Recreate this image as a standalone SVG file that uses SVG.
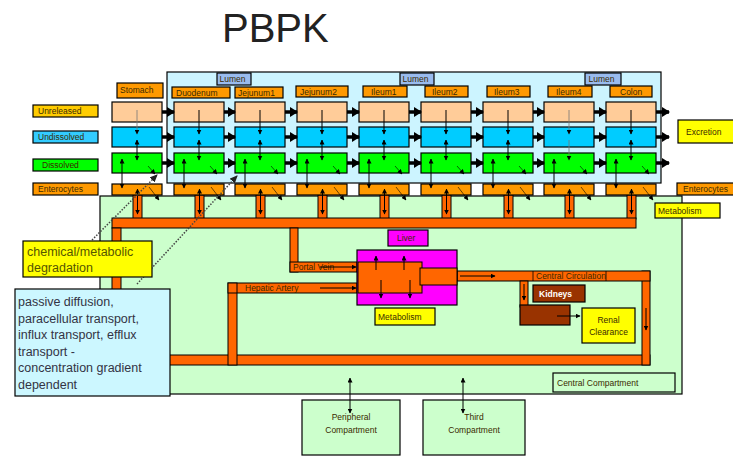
<svg xmlns="http://www.w3.org/2000/svg" width="733" height="457" viewBox="0 0 733 457">
<defs>
<style>
text{font-family:"Liberation Sans",Arial,sans-serif;}
.t{font-size:8.5px;fill:#3a2a00;}
.b{stroke:#000;stroke-width:1.2;}
.peach{fill:#ffcc99;}
.blue{fill:#00ccff;}
.green{fill:#00ff00;}
.ent{fill:#ff9900;}
.hdr{fill:#ff9900;}
.pipe{fill:#ff6600;stroke:#000;stroke-width:1;}
.yel{fill:#ffff00;}
.thick{stroke:#000;stroke-width:3.5;fill:none;marker-end:url(#big);}
.thin{stroke:#000;stroke-width:1;fill:none;marker-end:url(#sm);}
.dbl{stroke:#000;stroke-width:1;fill:none;marker-end:url(#sm);marker-start:url(#sm);}
.gthin{stroke:#777;stroke-width:0.8;fill:none;marker-end:url(#sm);}
.dia{stroke:#000;stroke-width:0.6;fill:none;marker-end:url(#sm);}
.dot{stroke:#444;stroke-width:1.5;stroke-dasharray:1.5 1.5;fill:none;marker-end:url(#sm2);}
</style>
<marker id="big" markerWidth="8" markerHeight="10" refX="7" refY="5" orient="auto" markerUnits="userSpaceOnUse"><path d="M0,0L8,5L0,10z" fill="#000"/></marker>
<marker id="sm" markerWidth="5" markerHeight="5" refX="4.5" refY="2.5" orient="auto-start-reverse" markerUnits="userSpaceOnUse"><path d="M0,0L5,2.5L0,5z" fill="#000"/></marker>
<marker id="sm2" markerWidth="8" markerHeight="7" refX="7" refY="3.5" orient="auto" markerUnits="userSpaceOnUse"><path d="M0,0L8,3.5L0,7z" fill="#222"/></marker>
</defs>
<rect width="733" height="457" fill="#fff"/>
<text x="222" y="42" font-size="40" fill="#222">PBPK</text>

<g id="central-area"><rect x="100" y="196" width="582" height="198" fill="#ccffcc" stroke="#000" stroke-width="1.2"/></g>
<g id="lumen"><rect x="167" y="72" width="494" height="111" fill="#ccf4ff" stroke="#000" stroke-width="1.2"/>
<rect x="217" y="73" width="34" height="12" fill="#99bbee" class="b"/><text class="t" x="219.5" y="82">Lumen</text>
<rect x="400" y="73" width="34" height="12" fill="#99bbee" class="b"/><text class="t" x="402.5" y="82">Lumen</text>
<rect x="585" y="73" width="36" height="12" fill="#99bbee" class="b"/><text class="t" x="588.5" y="82">Lumen</text></g>

<g id="row-labels">
<g id="lbl-unreleased"><rect x="33" y="105" width="65" height="12" fill="#ffcc00" class="b"/><text class="t" x="38" y="114">Unreleased</text></g>
<g id="lbl-undissolved"><rect x="33" y="131" width="65" height="12" fill="#33ccff" class="b"/><text class="t" x="38" y="140">Undissolved</text></g>
<g id="lbl-dissolved"><rect x="33" y="159" width="65" height="12" class="b green"/><text class="t" x="42" y="168">Dissolved</text></g>
<g id="lbl-enterocytes"><rect x="33" y="183" width="65" height="12" class="b ent"/><text class="t" x="38" y="192">Enterocytes</text></g>
</g>

<g id="vessels">
<rect class="pipe" x="133" y="195" width="9" height="24"/>
<rect class="pipe" x="195" y="195" width="9" height="24"/>
<rect class="pipe" x="256" y="195" width="9" height="24"/>
<rect class="pipe" x="318" y="195" width="9" height="24"/>
<rect class="pipe" x="380" y="195" width="9" height="24"/>
<rect class="pipe" x="442" y="195" width="9" height="24"/>
<rect class="pipe" x="504" y="195" width="9" height="24"/>
<rect class="pipe" x="565" y="195" width="9" height="24"/>
<rect class="pipe" x="627" y="195" width="9" height="24"/>
<rect class="pipe" x="112" y="218" width="524" height="10"/>
<rect class="pipe" x="112" y="228" width="9" height="137"/>
<rect class="pipe" x="112" y="355" width="538" height="10"/>
<rect class="pipe" x="642" y="271" width="8" height="94"/>
<rect class="pipe" x="457" y="271" width="193" height="10"/>
<rect class="pipe" x="290" y="228" width="8" height="44"/>
<rect class="pipe" x="290" y="262" width="67" height="10"/>
<rect class="pipe" x="228" y="283" width="9" height="82"/>
<rect class="pipe" x="228" y="283" width="129" height="10"/>
<rect class="pipe" x="520" y="281" width="8" height="26"/>
<line x1="237" y1="283" x2="237" y2="293" stroke="#000"/>
<line x1="533" y1="271" x2="533" y2="281" stroke="#000" stroke-width="0.8"/>
<line x1="606" y1="271" x2="606" y2="281" stroke="#000" stroke-width="0.8"/>
<text class="t" x="293" y="270" font-size="7.5">Portal Vein</text>
<text class="t" x="245" y="291" font-size="7.5">Hepatic Artery</text>
<text class="t" x="536" y="279" font-size="7.5">Central Circulation</text>
</g>

<g id="stomach"><rect class="b hdr" x="117" y="83" width="46" height="15"/><text class="t" x="120" y="93">Stomach</text>
<rect class="b peach" x="112" y="102" width="50" height="20"/><rect class="b blue" x="112" y="127" width="50" height="20"/><rect class="b green" x="112" y="153" width="50" height="20"/><rect class="b ent" x="112" y="184" width="50" height="11"/></g>
<g id="duodenum"><rect class="b hdr" x="172" y="87" width="58" height="11"/><text class="t" x="176" y="95.5">Duodenum</text>
<rect class="b peach" x="174" y="102" width="50" height="20"/><rect class="b blue" x="174" y="127" width="50" height="20"/><rect class="b green" x="174" y="153" width="50" height="20"/><rect class="b ent" x="174" y="184" width="50" height="11"/></g>
<g id="jejunum1"><rect class="b hdr" x="235" y="87" width="48" height="11"/><text class="t" x="238" y="95.5">Jejunum1</text>
<rect class="b peach" x="235" y="102" width="50" height="20"/><rect class="b blue" x="235" y="127" width="50" height="20"/><rect class="b green" x="235" y="153" width="50" height="20"/><rect class="b ent" x="235" y="184" width="50" height="11"/></g>
<g id="jejunum2"><rect class="b hdr" x="296" y="86" width="52" height="11"/><text class="t" x="300" y="94.5">Jejunum2</text>
<rect class="b peach" x="297" y="102" width="50" height="20"/><rect class="b blue" x="297" y="127" width="50" height="20"/><rect class="b green" x="297" y="153" width="50" height="20"/><rect class="b ent" x="297" y="184" width="50" height="11"/></g>
<g id="ileum1"><rect class="b hdr" x="363" y="86" width="44" height="11"/><text class="t" x="371" y="94.5">Ileum1</text>
<rect class="b peach" x="359" y="102" width="50" height="20"/><rect class="b blue" x="359" y="127" width="50" height="20"/><rect class="b green" x="359" y="153" width="50" height="20"/><rect class="b ent" x="359" y="184" width="50" height="11"/></g>
<g id="ileum2"><rect class="b hdr" x="425" y="86" width="43" height="11"/><text class="t" x="432" y="94.5">Ileum2</text>
<rect class="b peach" x="421" y="102" width="50" height="20"/><rect class="b blue" x="421" y="127" width="50" height="20"/><rect class="b green" x="421" y="153" width="50" height="20"/><rect class="b ent" x="421" y="184" width="50" height="11"/></g>
<g id="ileum3"><rect class="b hdr" x="487" y="86" width="43" height="11"/><text class="t" x="494" y="94.5">Ileum3</text>
<rect class="b peach" x="483" y="102" width="50" height="20"/><rect class="b blue" x="483" y="127" width="50" height="20"/><rect class="b green" x="483" y="153" width="50" height="20"/><rect class="b ent" x="483" y="184" width="50" height="11"/></g>
<g id="ileum4"><rect class="b hdr" x="548" y="86" width="44" height="11"/><text class="t" x="556" y="94.5">Ileum4</text>
<rect class="b peach" x="544" y="102" width="50" height="20"/><rect class="b blue" x="544" y="127" width="50" height="20"/><rect class="b green" x="544" y="153" width="50" height="20"/><rect class="b ent" x="544" y="184" width="50" height="11"/></g>
<g id="colon"><rect class="b hdr" x="610" y="86" width="42" height="11"/><text class="t" x="620" y="94.5">Colon</text>
<rect class="b peach" x="606" y="102" width="50" height="20"/><rect class="b blue" x="606" y="127" width="50" height="20"/><rect class="b green" x="606" y="153" width="50" height="20"/><rect class="b ent" x="606" y="184" width="50" height="11"/></g>

<g id="excretion"><rect class="b yel" x="678" y="120" width="60" height="23"/><text class="t" x="686" y="134.5" font-size="9">Excretion</text></g>
<g id="enterocytes-right"><rect class="b ent" x="677" y="183" width="60" height="12"/><text class="t" x="683" y="192">Enterocytes</text></g>
<g id="metabolism-gut"><rect class="b yel" x="655" y="203" width="65" height="15"/><text class="t" x="658" y="213.5">Metabolism</text></g>

<g id="liver"><rect x="357" y="250" width="100" height="55" fill="#ff00ff" class="b"/>
<rect x="358" y="262" width="64" height="31" class="pipe"/><rect x="420" y="268" width="37" height="17" class="pipe"/></g>
<g id="liver-label"><rect x="388" y="230" width="40" height="16" fill="#ff00ff" class="b"/><text class="t" x="397" y="241" fill="#551155">Liver</text></g>
<g id="metabolism-liver"><rect class="b yel" x="375" y="308" width="60" height="17"/><text class="t" x="378" y="319.5">Metabolism</text></g>
<g id="kidneys"><rect x="520" y="305" width="50" height="20" fill="#993300" class="b"/></g>
<g id="kidneys-label"><rect x="533" y="285" width="52" height="17" fill="#993300" class="b"/><text x="539" y="296.5" font-size="8.5" font-weight="bold" fill="#fff">Kidneys</text></g>
<g id="renal-clearance"><rect class="b yel" x="582" y="308" width="53" height="35"/><text class="t" x="608.5" y="323" text-anchor="middle">Renal</text><text class="t" x="608.5" y="335" text-anchor="middle">Clearance</text></g>
<g id="central-compartment"><rect x="553" y="373" width="122" height="19" fill="#ccffcc" class="b"/><text class="t" x="557" y="385.5">Central Compartment</text></g>
<g id="peripheral"><rect x="302" y="400" width="98" height="55" fill="#ccffcc" class="b"/><text class="t" x="351" y="420" text-anchor="middle">Peripheral</text><text class="t" x="351" y="433" text-anchor="middle">Compartment</text></g>
<g id="third"><rect x="423" y="400" width="102" height="55" fill="#ccffcc" class="b"/><text class="t" x="474" y="420" text-anchor="middle">Third</text><text class="t" x="474" y="433" text-anchor="middle">Compartment</text></g>

<g id="connectors">
<g id="flow-unreleased">
<line class="thick" x1="162" y1="112" x2="174" y2="112"/><line class="thick" x1="224" y1="112" x2="235" y2="112"/><line class="thick" x1="285" y1="112" x2="297" y2="112"/><line class="thick" x1="347" y1="112" x2="359" y2="112"/><line class="thick" x1="409" y1="112" x2="421" y2="112"/><line class="thick" x1="471" y1="112" x2="483" y2="112"/><line class="thick" x1="533" y1="112" x2="544" y2="112"/><line class="thick" x1="594" y1="112" x2="606" y2="112"/><line class="thick" x1="656" y1="112" x2="669" y2="112"/>
</g>
<g id="flow-undissolved">
<line class="thick" x1="162" y1="137" x2="174" y2="137"/><line class="thick" x1="224" y1="137" x2="235" y2="137"/><line class="thick" x1="285" y1="137" x2="297" y2="137"/><line class="thick" x1="347" y1="137" x2="359" y2="137"/><line class="thick" x1="409" y1="137" x2="421" y2="137"/><line class="thick" x1="471" y1="137" x2="483" y2="137"/><line class="thick" x1="533" y1="137" x2="544" y2="137"/><line class="thick" x1="594" y1="137" x2="606" y2="137"/><line class="thick" x1="656" y1="137" x2="669" y2="137"/>
</g>
<g id="flow-dissolved">
<line class="thick" x1="162" y1="163" x2="174" y2="163"/><line class="thick" x1="224" y1="163" x2="235" y2="163"/><line class="thick" x1="285" y1="163" x2="297" y2="163"/><line class="thick" x1="347" y1="163" x2="359" y2="163"/><line class="thick" x1="409" y1="163" x2="421" y2="163"/><line class="thick" x1="471" y1="163" x2="483" y2="163"/><line class="thick" x1="533" y1="163" x2="544" y2="163"/><line class="thick" x1="594" y1="163" x2="606" y2="163"/><line class="thick" x1="656" y1="163" x2="669" y2="163"/>
</g>
<g id="release">
<line class="gthin" x1="137" y1="110" x2="137" y2="134"/><line class="thin" x1="199" y1="110" x2="199" y2="134"/><line class="thin" x1="260" y1="110" x2="260" y2="134"/><line class="thin" x1="322" y1="110" x2="322" y2="134"/><line class="thin" x1="384" y1="110" x2="384" y2="134"/><line class="thin" x1="446" y1="110" x2="446" y2="134"/><line class="thin" x1="508" y1="110" x2="508" y2="134"/><line class="gthin" x1="569" y1="110" x2="569" y2="134"/><line class="thin" x1="631" y1="110" x2="631" y2="134"/>
</g>
<g id="dissolution">
<line class="dbl" x1="137" y1="140" x2="137" y2="160"/><line class="dbl" x1="199" y1="140" x2="199" y2="160"/><line class="dbl" x1="260" y1="140" x2="260" y2="160"/><line class="dbl" x1="322" y1="140" x2="322" y2="160"/><line class="dbl" x1="384" y1="140" x2="384" y2="160"/><line class="dbl" x1="446" y1="140" x2="446" y2="160"/><line class="dbl" x1="508" y1="140" x2="508" y2="160"/><line class="gthin" x1="569" y1="140" x2="569" y2="160"/><line class="dbl" x1="631" y1="140" x2="631" y2="160"/>
</g>
<g id="absorption">
<line class="dbl" x1="122" y1="159" x2="122" y2="188"/><line class="dbl" x1="184" y1="159" x2="184" y2="188"/><line class="dbl" x1="245" y1="159" x2="245" y2="188"/><line class="dbl" x1="307" y1="159" x2="307" y2="188"/><line class="dbl" x1="369" y1="159" x2="369" y2="188"/><line class="dbl" x1="431" y1="159" x2="431" y2="188"/><line class="dbl" x1="493" y1="159" x2="493" y2="188"/><line class="dbl" x1="554" y1="159" x2="554" y2="188"/><line class="dbl" x1="616" y1="159" x2="616" y2="188"/>
</g>
<g id="degradation-marks">
<line class="dia" x1="148" y1="166" x2="155" y2="174"/><line class="dia" x1="210" y1="166" x2="217" y2="174"/><line class="dia" x1="271" y1="166" x2="278" y2="174"/><line class="dia" x1="333" y1="166" x2="340" y2="174"/><line class="dia" x1="395" y1="166" x2="402" y2="174"/><line class="dia" x1="457" y1="166" x2="464" y2="174"/><line class="dia" x1="519" y1="166" x2="526" y2="174"/><line class="dia" x1="580" y1="166" x2="587" y2="174"/><line class="dia" x1="642" y1="166" x2="649" y2="174"/>
<line class="dia" x1="149" y1="187" x2="159" y2="200"/><line class="dia" x1="211" y1="187" x2="221" y2="200"/><line class="dia" x1="272" y1="187" x2="282" y2="200"/><line class="dia" x1="334" y1="187" x2="344" y2="200"/><line class="dia" x1="396" y1="187" x2="406" y2="200"/><line class="dia" x1="458" y1="187" x2="468" y2="200"/><line class="dia" x1="520" y1="187" x2="530" y2="200"/><line class="dia" x1="581" y1="187" x2="591" y2="200"/><line class="dia" x1="643" y1="187" x2="653" y2="200"/>
</g>
<g id="uptake">
<line class="dbl" x1="137.5" y1="189" x2="137.5" y2="214"/><line class="dbl" x1="199.5" y1="189" x2="199.5" y2="214"/><line class="dbl" x1="260.5" y1="189" x2="260.5" y2="214"/><line class="dbl" x1="322.5" y1="189" x2="322.5" y2="214"/><line class="dbl" x1="384.5" y1="189" x2="384.5" y2="214"/><line class="dbl" x1="446.5" y1="189" x2="446.5" y2="214"/><line class="dbl" x1="508.5" y1="189" x2="508.5" y2="214"/><line class="dbl" x1="569.5" y1="189" x2="569.5" y2="214"/><line class="dbl" x1="631.5" y1="189" x2="631.5" y2="214"/>
</g>
<line class="thin" x1="320" y1="267" x2="356" y2="267"/>
<line class="thin" x1="320" y1="288" x2="356" y2="288"/>
<line class="thin" x1="460" y1="276" x2="495" y2="276"/>
<line class="thin" x1="524" y1="284" x2="524" y2="300"/>
<line class="thin" x1="646" y1="308" x2="646" y2="330"/>
<line class="thin" x1="557" y1="316" x2="580" y2="316"/>
<line class="thin" x1="376" y1="270" x2="376" y2="256"/>
<line class="thin" x1="404" y1="270" x2="404" y2="256"/>
<line class="thin" x1="381" y1="280" x2="381" y2="298"/>
<line class="thin" x1="410" y1="280" x2="410" y2="298"/>
<line class="dbl" stroke-width="1.2" x1="350" y1="378" x2="350" y2="413"/>
<line class="dbl" x1="463" y1="378" x2="463" y2="413"/>
<path class="dot" d="M92,240L157,175"/>
<path class="dot" d="M137,284L237,176"/>
</g>

<g id="degradation"><rect x="23" y="241" width="129" height="36" fill="#ffff00" class="b"/><text x="27" y="256" font-size="12.5" fill="#555500">chemical/metabolic</text><text x="27" y="272" font-size="12.5" fill="#555500">degradation</text></g>
<g id="transport"><rect x="15" y="289" width="155" height="107" fill="#ccf7ff" class="b"/>
<text font-size="12.5" fill="#333344"><tspan x="18" y="306">passive diffusion,</tspan><tspan x="18" y="322.5">paracellular transport,</tspan><tspan x="18" y="339">influx transport, efflux</tspan><tspan x="18" y="355.5">transport -</tspan><tspan x="18" y="372">concentration gradient</tspan><tspan x="18" y="388.5">dependent</tspan></text></g>
</svg>
